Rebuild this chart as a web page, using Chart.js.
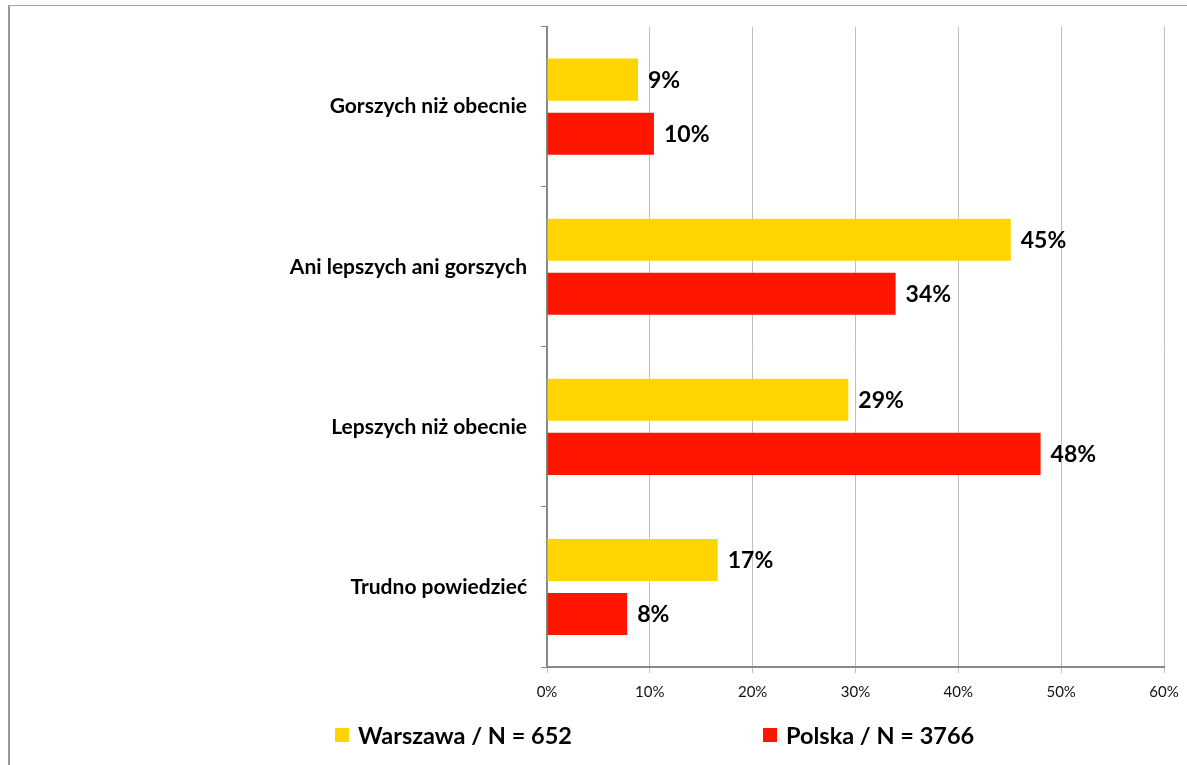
<!DOCTYPE html>
<html><head><meta charset="utf-8">
<script src="https://cdn.jsdelivr.net/npm/chart.js@4.4.1/dist/chart.umd.min.js"></script>
<style>
html,body{margin:0;padding:0;background:#fff;overflow:hidden;}
#frame{position:absolute;left:8px;top:5px;width:1250px;height:800px;border-left:2px solid #9a9a9a;border-top:1px solid #a6a6a6;}
#wrap{position:absolute;left:0;top:0;width:1187px;height:765px;}
</style></head>
<body>
<div id="frame"></div>
<div id="wrap"><canvas id="c" width="1187" height="765"></canvas></div>
<script>
const categories = ["Gorszych niż obecnie", "Ani lepszych ani gorszych", "Lepszych niż obecnie", "Trudno powiedzieć"];
const warszawaLabel = "Warszawa / N = 652";
const polskaLabel = "Polska / N = 3766";
const warszawaValues = [8.85, 45.1, 29.3, 16.6];
const polskaValues = [10.4, 33.9, 48.0, 7.8];
const xTicks = [0, 10, 20, 30, 40, 50, 60];

const YELLOW = '#FFD500';
const RED = '#FF1500';
const FONT = 'Lato, "Open Sans", sans-serif';

const valueLabels = {
  id: 'valueLabels',
  afterDatasetsDraw(chart) {
    const ctx = chart.ctx;
    ctx.save();
    ctx.font = 'bold 23px ' + FONT;
    ctx.fillStyle = '#000';
    ctx.textAlign = 'left';
    ctx.textBaseline = 'middle';
    chart.data.datasets.forEach((ds, i) => {
      chart.getDatasetMeta(i).data.forEach((bar, j) => {
        ctx.fillText(Math.round(ds.data[j]) + '%', bar.x + 10, bar.y + 1);
      });
    });
    ctx.restore();
  }
};

const customLegend = {
  id: 'customLegend',
  afterDraw(chart) {
    const ctx = chart.ctx;
    const left = chart.chartArea.left;
    const y = 735;
    const items = [
      {x: left - 212, ds: chart.data.datasets[0]},
      {x: left + 216, ds: chart.data.datasets[1]}
    ];
    ctx.save();
    ctx.font = 'bold 23.5px ' + FONT;
    ctx.textBaseline = 'middle';
    ctx.textAlign = 'left';
    items.forEach(it => {
      ctx.fillStyle = it.ds.backgroundColor;
      ctx.fillRect(it.x, y - 7, 14, 14);
      ctx.fillStyle = '#000';
      ctx.fillText(it.ds.label, it.x + 23, y + 1);
    });
    ctx.restore();
  }
};

new Chart(document.getElementById('c'), {
  type: 'bar',
  data: {
    labels: categories,
    datasets: [
      {label: warszawaLabel, data: warszawaValues, backgroundColor: YELLOW, categoryPercentage: 0.675, barPercentage: 0.778},
      {label: polskaLabel, data: polskaValues, backgroundColor: RED, categoryPercentage: 0.675, barPercentage: 0.778}
    ]
  },
  options: {
    indexAxis: 'y',
    responsive: false,
    animation: false,
    layout: {padding: {top: 24, right: 23, left: 0, bottom: 0}},
    plugins: {legend: {display: false}, tooltip: {enabled: false}},
    scales: {
      x: {
        min: 0, max: 60,
        afterBuildTicks(scale) { scale.ticks = xTicks.map(v => ({value: v})); },
        afterFit(scale) { scale.height = 98; scale.paddingRight = 0; scale.paddingLeft = 0; },
        grid: {color: '#c0c0c0', lineWidth: 1, tickLength: 6, drawTicks: true},
        border: {color: '#888888', width: 2},
        ticks: {color: '#111', font: {family: FONT, size: 15}, padding: 10, callback: v => v + '%', maxRotation: 0}
      },
      y: {
        afterFit(scale) { scale.width = 547; },
        grid: {drawOnChartArea: false, drawTicks: true, tickLength: 6, color: '#888888', offset: true},
        border: {color: '#888888', width: 2},
        ticks: {color: '#000', font: {family: FONT, size: 21, weight: 'bold'}, padding: 14}
      }
    }
  },
  plugins: [valueLabels, customLegend]
});
</script>
</body></html>
